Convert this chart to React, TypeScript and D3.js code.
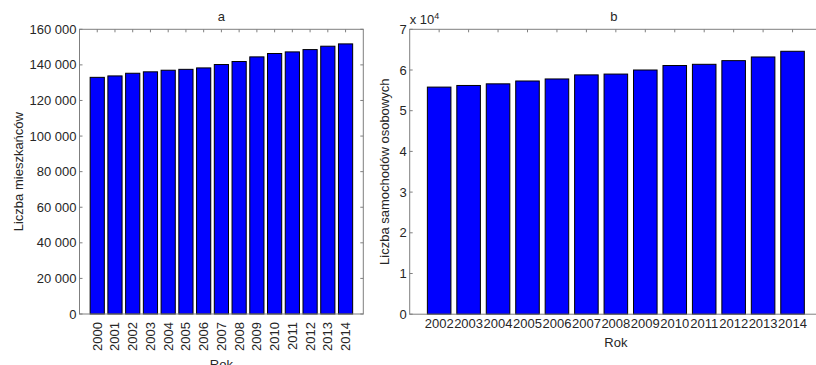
import React from "react";
import * as d3 from "d3";

const yearsA = [2000, 2001, 2002, 2003, 2004, 2005, 2006, 2007, 2008, 2009, 2010, 2011, 2012, 2013, 2014];
const residents = [133000, 133800, 135300, 136100, 137000, 137500, 138300, 140200, 141900, 144500, 146400, 147300, 148600, 150500, 151800];
const yTicksA = [0, 20000, 40000, 60000, 80000, 100000, 120000, 140000, 160000];

const yearsB = [2002, 2003, 2004, 2005, 2006, 2007, 2008, 2009, 2010, 2011, 2012, 2013, 2014];
const cars = [5.58, 5.62, 5.66, 5.73, 5.78, 5.88, 5.90, 6.00, 6.11, 6.14, 6.23, 6.32, 6.46];
const yTicksB = [0, 1, 2, 3, 4, 5, 6, 7];

const FONT = "'Liberation Sans', Arial, sans-serif";
const AXIS = "#7f7f7f";
const TXT = "#262626";
const FS = 13;

const fmtSpace = (v: number) => {
  const s = String(v);
  return s.replace(/\B(?=(\d{3})+(?!\d))/g, " ");
};

export default function App() {
  // Panel A
  const aL = 79.5, aR = 363.3, aT = 29.3, aB = 314;
  const xA = d3.scaleLinear().domain([1999, 2015]).range([aL, aR]);
  const yA = d3.scaleLinear().domain([0, 160000]).range([aB, aT]);
  const bwA = xA(2000.4) - xA(1999.6);

  // Panel B
  const bL = 409.7, bT = 29.3, bB = 314.2;
  const xB = d3.scaleLinear().domain([2001, 2002]).range([bL, bL + 29.45]);
  const bR = xB(2015);
  const yB = d3.scaleLinear().domain([0, 7]).range([bB, bT]);
  const bwB = xB(2002.4) - xB(2001.6);
  const tick = 3;

  return (
    <svg
      width={816}
      height={365}
      style={{ position: "absolute", left: 0, top: 0, background: "#fff" }}
      fontFamily={FONT}
      fontSize={FS}
    >
      <rect x={0} y={0} width={816} height={365} fill="#fff" />
      {/* ===== Panel A ===== */}
      <g>
        {residents.map((v, i) => (
          <rect
            key={i}
            x={xA(yearsA[i]) - bwA / 2}
            y={yA(v)}
            width={bwA}
            height={yA(0) - yA(v)}
            fill="#0000ff"
            stroke="#000"
            strokeWidth={1}
          />
        ))}
        <rect x={aL} y={aT} width={aR - aL} height={aB - aT} fill="none" stroke={AXIS} strokeWidth={1} />
        {yTicksA.map((t) => (
          <g key={t}>
            <line x1={aL} x2={aL + tick} y1={yA(t)} y2={yA(t)} stroke={AXIS} />
            <line x1={aR} x2={aR - tick} y1={yA(t)} y2={yA(t)} stroke={AXIS} />
            <text x={aL - 3} y={yA(t)} dy="0.35em" textAnchor="end" fill={TXT}>
              {fmtSpace(t)}
            </text>
          </g>
        ))}
        {yearsA.map((yr) => (
          <g key={yr}>
            <line x1={xA(yr)} x2={xA(yr)} y1={aT} y2={aT + tick} stroke={AXIS} />
            <text
              transform={`translate(${xA(yr) + 4.5},${aB + 8}) rotate(-90)`}
              textAnchor="end"
              fill={TXT}
            >
              {yr}
            </text>
          </g>
        ))}
        <text x={(aL + aR) / 2} y={21} textAnchor="middle" fill={TXT}>a</text>
        <text
          transform={`translate(${23},${(aT + aB) / 2}) rotate(-90)`}
          textAnchor="middle"
          fill={TXT}
        >
          Liczba mieszkańców
        </text>
        <text x={(aL + aR) / 2} y={369} textAnchor="middle" fill={TXT}>Rok</text>
      </g>

      {/* ===== Panel B ===== */}
      <g>
        {cars.map((v, i) => (
          <rect
            key={i}
            x={xB(yearsB[i]) - bwB / 2}
            y={yB(v)}
            width={bwB}
            height={yB(0) - yB(v)}
            fill="#0000ff"
            stroke="#000"
            strokeWidth={1}
          />
        ))}
        <rect x={bL} y={bT} width={bR - bL} height={bB - bT} fill="none" stroke={AXIS} strokeWidth={1} />
        {yTicksB.map((t) => (
          <g key={t}>
            <line x1={bL} x2={bL + tick} y1={yB(t)} y2={yB(t)} stroke={AXIS} />
            <text x={bL - 3} y={yB(t)} dy="0.35em" textAnchor="end" fill={TXT}>
              {t}
            </text>
          </g>
        ))}
        {yearsB.map((yr) => (
          <g key={yr}>
            <line x1={xB(yr)} x2={xB(yr)} y1={bT} y2={bT + tick} stroke={AXIS} />
            <text x={xB(yr)} y={bB + 14} textAnchor="middle" fill={TXT}>
              {yr}
            </text>
          </g>
        ))}
        <text x={bL} y={24} fill={TXT}>
          x 10
          <tspan fontSize={9} dy={-5}>4</tspan>
        </text>
        <text x={(bL + 816 + 10) / 2 - 4} y={21} textAnchor="middle" fill={TXT}>b</text>
        <text
          transform={`translate(${389},${(bT + bB) / 2}) rotate(-90)`}
          textAnchor="middle"
          fill={TXT}
        >
          Liczba samochodów osobowych
        </text>
        <text x={xB(2008)} y={347} textAnchor="middle" fill={TXT}>Rok</text>
      </g>
    </svg>
  );
}
